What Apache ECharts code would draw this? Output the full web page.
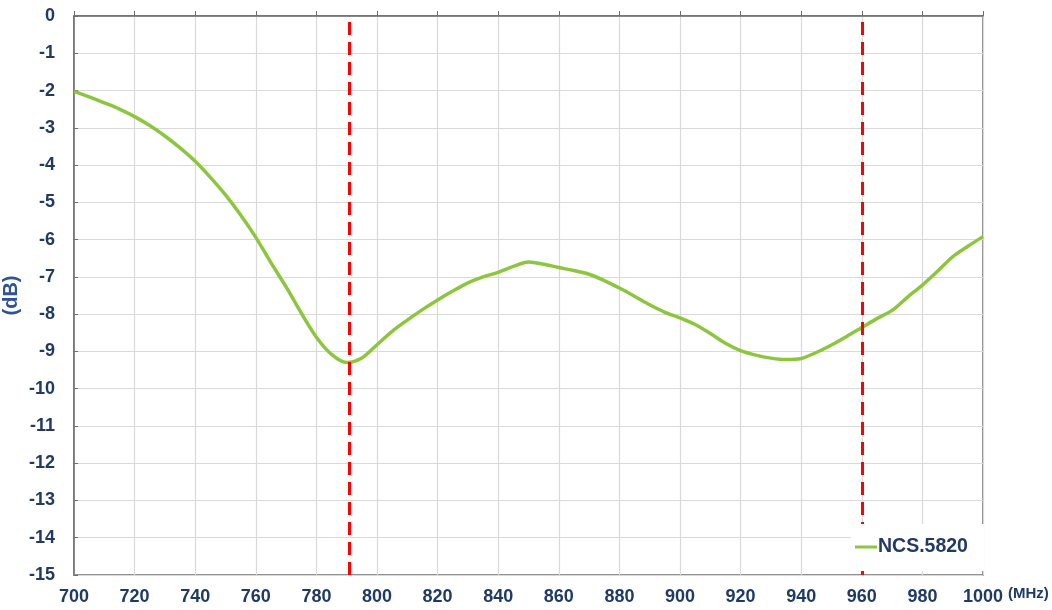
<!DOCTYPE html>
<html>
<head>
<meta charset="utf-8">
<script src="https://cdn.jsdelivr.net/npm/echarts@6/dist/echarts.min.js"></script>
<style>
html,body{margin:0;padding:0;background:#fff;}
#chart{width:1052px;height:610px;}
</style>
</head>
<body>
<div id="chart"></div>
<script>
const freqMHz = [700,705,710,715,720,725,730,735,740,745,750,755,760,765,770,775,780,785,790,795,800,805,810,815,820,825,830,835,840,845,850,855,860,865,870,875,880,885,890,895,900,905,910,915,920,925,930,935,940,945,950,955,960,965,970,975,980,985,990,995,1000];
const lossDb = [-2.02,-2.17,-2.33,-2.5,-2.7,-2.94,-3.22,-3.54,-3.9,-4.33,-4.8,-5.34,-5.94,-6.62,-7.27,-7.97,-8.62,-9.08,-9.3,-9.18,-8.82,-8.46,-8.16,-7.88,-7.62,-7.38,-7.16,-7.0,-6.88,-6.72,-6.6,-6.66,-6.75,-6.83,-6.93,-7.1,-7.3,-7.52,-7.75,-7.95,-8.1,-8.28,-8.52,-8.78,-8.98,-9.1,-9.18,-9.22,-9.19,-9.03,-8.83,-8.6,-8.36,-8.12,-7.9,-7.55,-7.22,-6.85,-6.46,-6.18,-5.92];
const markerFreqs = [791, 960];
const seriesName = 'NCS.5820';
const xUnit = '(MHz)';
const yUnit = '(dB)';
const xTicks = {min: 700, max: 1000, step: 20};
const yTicks = {min: -15, max: 0, step: 1};

const chart = echarts.init(document.getElementById('chart'), null, {renderer: 'canvas'});
const labelFont = '"Liberation Sans Narrow","Arial Narrow","Liberation Sans",Arial,sans-serif';
const navy = '#1f3a63';

chart.setOption({
  animation: false,
  backgroundColor: '#ffffff',
  grid: {left: 74, top: 16, right: 69, bottom: 35, show: true, borderColor: '#6e6e6e', borderWidth: 1.5,
         containLabel: false, outerBoundsMode: 'none'},
  graphic: [{
    type: 'text', left: 1008, top: 586, z: 50,
    style: {text: xUnit, fontFamily: labelFont, fontWeight: 'bold', fontSize: 15, fill: navy}
  }],
  legend: {
    data: [seriesName],
    left: 851, top: 524,
    z: 20,
    backgroundColor: '#ffffff',
    padding: [13, 16, 14, 4],
    itemWidth: 22, itemHeight: 3, icon: 'rect',
    textStyle: {fontFamily: labelFont, fontWeight: 'bold', fontSize: 19.5, color: navy, padding: [0,0,0,-4]}
  },
  xAxis: {
    type: 'value', min: xTicks.min, max: xTicks.max, interval: xTicks.step,
    axisLine: {show: true, lineStyle: {color: '#6e6e6e', width: 1.5}},
    axisTick: {show: true, inside: true, length: 5, lineStyle: {color: '#6e6e6e'}},
    axisLabel: {margin: 13, fontFamily: labelFont, fontWeight: 'bold', fontSize: 18, color: navy,
                formatter: v => String(v)},
    splitLine: {show: true, lineStyle: {color: '#d9d9d9', width: 1.2}}
  },
  yAxis: {
    type: 'value', min: yTicks.min, max: yTicks.max, interval: yTicks.step,
    name: yUnit, nameLocation: 'middle', nameRotate: 90, nameGap: 53, nameMoveOverlap: false,
    nameTextStyle: {fontFamily: labelFont, fontWeight: 'bold', fontSize: 20, color: '#2d5496'},
    axisLine: {show: true, lineStyle: {color: '#6e6e6e', width: 1.5}},
    axisTick: {show: true, inside: true, length: 4, lineStyle: {color: '#6e6e6e'}},
    axisLabel: {margin: 19, fontFamily: labelFont, fontWeight: 'bold', fontSize: 18, color: navy,
                formatter: v => String(v)},
    splitLine: {show: true, lineStyle: {color: '#d9d9d9', width: 1.2}}
  },
  series: [{
    name: seriesName,
    type: 'line',
    z: 2,
    data: freqMHz.map((f, i) => [f, lossDb[i]]),
    smooth: 0.3,
    showSymbol: false,
    lineStyle: {color: '#8cc63f', width: 3.5},
    itemStyle: {color: '#8cc63f'},
    markLine: {
      silent: true,
      z: 3,
      symbol: ['none', 'none'],
      label: {show: false},
      lineStyle: {color: '#ff0000', width: 3, type: [13, 7]},
      data: markerFreqs.map(f => ({xAxis: f}))
    }
  }]
});
</script>
</body>
</html>
